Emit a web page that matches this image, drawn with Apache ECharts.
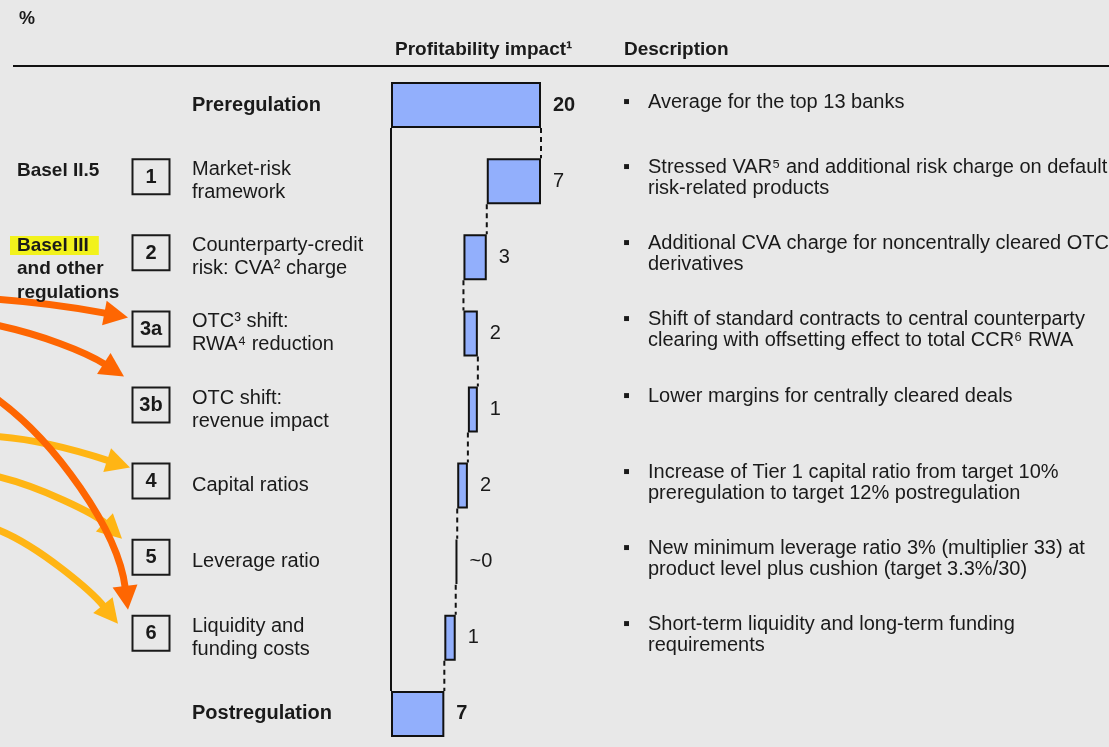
<!DOCTYPE html>
<html>
<head>
<meta charset="utf-8">
<script src="https://cdn.jsdelivr.net/npm/echarts@6/dist/echarts.min.js"></script>
<style>
  html, body { margin: 0; padding: 0; background: #e8e8e8; }
  #chart { width: 1109px; height: 747px; }
</style>
</head>
<body>
<div id="chart"></div>
<script>
// rows of the waterfall, top to bottom
const rowNames = [
  'Preregulation',
  'Market-risk\nframework',
  'Counterparty-credit\nrisk: CVA² charge',
  'OTC³ shift:\nRWA⁴ reduction',
  'OTC shift:\nrevenue impact',
  'Capital ratios',
  'Leverage ratio',
  'Liquidity and\nfunding costs',
  'Postregulation'
];
const boxLabels = ['', '1', '2', '3a', '3b', '4', '5', '6', ''];
const groupLabels = ['', 'Basel II.5', 'Basel III\nand other\nregulations', '', '', '', '', '', ''];

// first and last are totals, the rest are changes
const impact = [20, -7.23, -3.11, 1.92, -1.33, -1.42, -0.2, -1.52, 7.11];
const impactLabels = ['20', '7', '3', '2', '1', '2', '~0', '1', '7'];

const descriptions = [
  ['Average for the top 13 banks'],
  ['Stressed VAR⁵ and additional risk charge on default', 'risk-related products'],
  ['Additional CVA charge for noncentrally cleared OTC', 'derivatives'],
  ['Shift of standard contracts to central counterparty', 'clearing with offsetting effect to total CCR⁶ RWA'],
  ['Lower margins for centrally cleared deals'],
  ['Increase of Tier 1 capital ratio from target 10%', 'preregulation to target 12% postregulation'],
  ['New minimum leverage ratio 3% (multiplier 33) at', 'product level plus cushion (target 3.3%/30)'],
  ['Short-term liquidity and long-term funding', 'requirements'],
  []
];

const FONT = "'Liberation Sans', Arial, sans-serif";
const TEXT = '#1a1a1a';
const LINE = '#111';
const BAR_H = 46;
const ORANGE = '#fe6602';
const YELLOW = '#ffb514';

// waterfall table: invisible base + visible part, and dashed links between rows
const baseData = [], deltaData = [], links = [];
let running = 0;
impact.forEach((v, i) => {
  const isTotal = i === 0 || i === impact.length - 1;
  if (isTotal) {
    baseData.push(0);
    deltaData.push(v);
    running = v;
  } else {
    const next = running + v;
    baseData.push(Math.min(running, next));
    deltaData.push(Math.abs(v));
    running = next;
  }
  if (i < impact.length - 1) links.push([running, i]);
});

const chart = echarts.init(document.getElementById('chart'));

const catAxis = extra => Object.assign({
  type: 'category',
  data: rowNames,
  inverse: true,
  axisLine: { show: false },
  axisTick: { show: false },
  splitLine: { show: false }
}, extra);

chart.setOption({
  backgroundColor: '#e8e8e8',
  animation: false,
  textStyle: { fontFamily: FONT },
  title: [
    { text: '%', left: 14, top: 5, textStyle: { fontSize: 18, fontWeight: 'bold', color: TEXT, fontFamily: FONT } },
    { text: 'Profitability impact¹', left: 390, top: 35, textStyle: { fontSize: 19, fontWeight: 'bold', color: TEXT, fontFamily: FONT } },
    { text: 'Description', left: 619, top: 35, textStyle: { fontSize: 19, fontWeight: 'bold', color: TEXT, fontFamily: FONT } }
  ],
  grid: { left: 391, width: 225, top: 67, height: 685, outerBoundsMode: 'none', containLabel: false },
  xAxis: { type: 'value', min: 0, max: 30, show: false },
  yAxis: [
    // row names
    catAxis({
      position: 'left',
      axisLabel: {
        interval: 0, align: 'left', margin: 199,
        fontSize: 20, lineHeight: 23, color: TEXT, fontFamily: FONT,
        formatter: (v, i) => (i === 0 || i === rowNames.length - 1) ? '{b|' + v + '}' : v,
        rich: { b: { fontWeight: 'bold', fontSize: 20, fontFamily: FONT, color: TEXT } }
      }
    }),
    // numbered boxes
    catAxis({
      position: 'left',
      axisLabel: {
        interval: 0, align: 'center', margin: 240, padding: [0, 0, 9, 0],
        formatter: (v, i) => boxLabels[i] ? '{box|' + boxLabels[i] + '}' : '',
        rich: {
          box: {
            width: 37, lineHeight: 24, padding: [8, 0, 7, 0], align: 'center',
            borderColor: '#1a1a1a', borderWidth: 2,
            fontWeight: 'bold', fontSize: 20, fontFamily: FONT, color: TEXT
          }
        }
      }
    }),
    // regulation groups
    catAxis({
      position: 'left',
      axisLabel: {
        interval: 0, align: 'left', margin: 381,
        formatter: (v, i) => {
          if (i === 1) return '{g1|' + groupLabels[i] + '}\n{g1| }';
          if (i === 2) {
            const parts = groupLabels[i].split('\n');
            return '{g| }\n{hl|' + parts[0] + '}\n' + parts.slice(1).map(p => '{g|' + p + '}').join('\n');
          }
          return '';
        },
        rich: {
          g1: { fontWeight: 'bold', fontSize: 19, lineHeight: 20, padding: [0, 0, 0, 7], color: TEXT, fontFamily: FONT },
          g: { fontWeight: 'bold', fontSize: 19, lineHeight: 23.5, padding: [0, 0, 0, 7], color: TEXT, fontFamily: FONT },
          hl: { fontWeight: 'bold', fontSize: 19, lineHeight: 23.5, padding: [0, 10, 0, 7], backgroundColor: '#f2f21c', color: TEXT, fontFamily: FONT }
        }
      }
    }),
    // descriptions
    catAxis({
      position: 'right',
      axisLabel: {
        interval: 0, align: 'left', margin: 7,
        formatter: (v, i) => {
          const lines = descriptions[i];
          if (!lines.length) return '';
          let s = '{bul|▪}{t|' + lines[0] + '}';
          for (let k = 1; k < lines.length; k++) s += '\n{ind| }{t|' + lines[k] + '}';
          if (lines.length === 1 && i !== 0) s += '\n{t| }';
          return s;
        },
        padding: [0, 0, 6, 0],
        rich: {
          bul: { width: 25, fontSize: 20, lineHeight: 21, color: TEXT, fontFamily: FONT },
          ind: { width: 25, fontSize: 14, lineHeight: 21 },
          t: { fontSize: 20, lineHeight: 21, color: TEXT, fontFamily: FONT }
        }
      }
    })
  ],
  series: [
    {
      type: 'bar', stack: 'fall', barWidth: BAR_H, silent: true,
      itemStyle: { color: 'transparent' },
      data: baseData
    },
    {
      type: 'bar', stack: 'fall', barWidth: BAR_H, silent: true,
      itemStyle: { color: '#92affc', borderColor: LINE, borderWidth: 2 },
      label: {
        show: true, position: 'right', distance: 12,
        fontSize: 20, color: TEXT, fontFamily: FONT,
        formatter: p => impactLabels[p.dataIndex]
      },
      data: deltaData.map((v, i) => ({
        value: v,
        label: { fontWeight: (i === 0 || i === deltaData.length - 1) ? 'bold' : 'normal' }
      }))
    },
    {
      // dashed links from one bar to the next
      type: 'custom', silent: true,
      encode: { x: 0, y: 1 },
      data: links,
      renderItem: (params, api) => {
        const x = api.value(0), row = api.value(1);
        const p1 = api.coord([x, row]);
        const p2 = api.coord([x, row + 1]);
        return {
          type: 'line',
          shape: { x1: p1[0], y1: p1[1] + BAR_H / 2, x2: p2[0], y2: p2[1] - BAR_H / 2 },
          style: { stroke: LINE, lineWidth: 2, lineDash: [5, 4] }
        };
      }
    },
    {
      // zero line between the two totals
      type: 'custom', silent: true,
      encode: { x: 0, y: 1 },
      data: [[0, 0, rowNames.length - 1]],
      renderItem: (params, api) => {
        const p1 = api.coord([0, api.value(1)]);
        const p2 = api.coord([0, api.value(2)]);
        return {
          type: 'line',
          shape: { x1: p1[0], y1: p1[1] + BAR_H / 2, x2: p2[0], y2: p2[1] - BAR_H / 2 },
          style: { stroke: LINE, lineWidth: 2 }
        };
      }
    }
  ]
});

// curved arrows pointing at the boxes; points are given relative to the tip
const arrowSpecs = [
  { color: YELLOW, row: 5, tipX: 130, tipDy: -18, start: [-132, -31], c1: [-90, -28], c2: [-40, -13] },
  { color: YELLOW, row: 6, tipX: 122, tipDy: -23, start: [-124, -62], c1: [-82, -52], c2: [-27, -25] },
  { color: YELLOW, row: 7, tipX: 118, tipDy: -14, start: [-120, -94], c1: [-78, -77], c2: [-26, -32] },
  { color: ORANGE, row: 3, tipX: 128, tipDy: -16, start: [-130, -18], c1: [-88, -15], c2: [-43, -8] },
  { color: ORANGE, row: 4, tipX: 124, tipDy: -33, start: [-126, -51], c1: [-84, -42], c2: [-39, -25] },
  { color: ORANGE, row: 7, tipX: 128, tipDy: -28, start: [-130, -210], c1: [-73, -168], c2: [-10, -80] }
];

const arrows = [];
arrowSpecs.forEach(a => {
  const rowY = chart.convertToPixel({ yAxisIndex: 0 }, a.row);
  const tip = [a.tipX, rowY + a.tipDy];
  const pt = d => [tip[0] + d[0], tip[1] + d[1]];
  const s = pt(a.start), c1 = pt(a.c1), c2 = pt(a.c2);
  let dx = tip[0] - c2[0], dy = tip[1] - c2[1];
  const len = Math.hypot(dx, dy);
  dx /= len; dy /= len;
  const headLen = 24, headHalf = 12.5;
  const base = [tip[0] - dx * headLen, tip[1] - dy * headLen];
  arrows.push({
    type: 'bezierCurve', silent: true,
    shape: { x1: s[0], y1: s[1], cpx1: c1[0], cpy1: c1[1], cpx2: c2[0], cpy2: c2[1], x2: base[0] + dx * 2, y2: base[1] + dy * 2 },
    style: { stroke: a.color, lineWidth: 7, fill: null }
  });
  arrows.push({
    type: 'polygon', silent: true,
    shape: { points: [tip, [base[0] - dy * headHalf, base[1] + dx * headHalf], [base[0] + dy * headHalf, base[1] - dx * headHalf]] },
    style: { fill: a.color }
  });
});

chart.setOption({
  graphic: [
    { type: 'line', silent: true, shape: { x1: 13, y1: 66, x2: 1109, y2: 66 }, style: { stroke: '#111', lineWidth: 2 } }
  ].concat(arrows)
});
</script>
</body>
</html>
